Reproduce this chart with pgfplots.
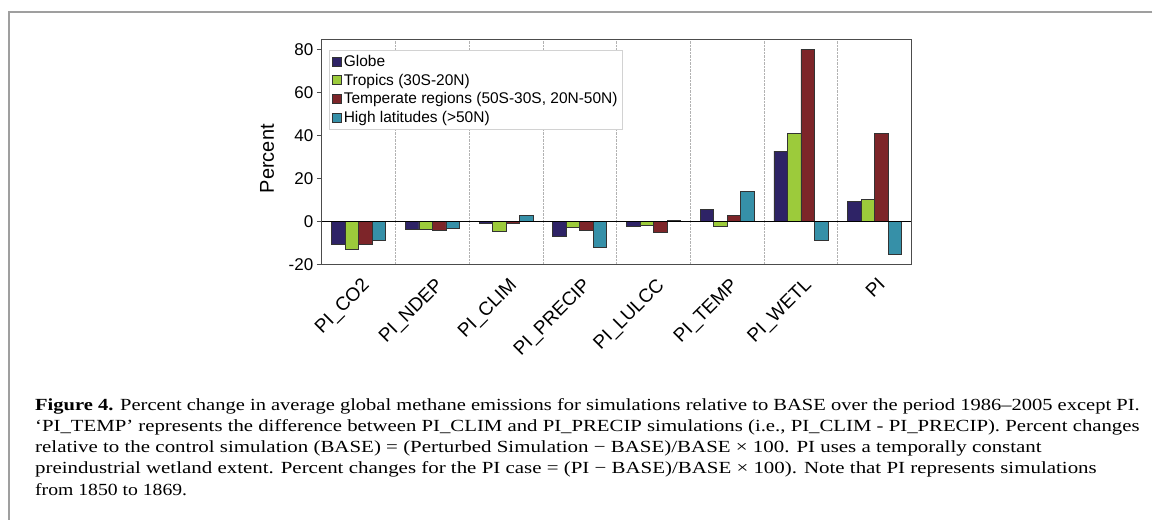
\documentclass[border=0pt]{standalone}
\usepackage{pgfplots}
\pgfplotsset{compat=1.18}
\usepackage{fontspec}
\setmainfont{Liberation Sans}
\newfontfamily\capfont{Liberation Serif}

\definecolor{cglobe}{HTML}{2E2366}
\definecolor{ctrop}{HTML}{9CCB3B}
\definecolor{ctemp}{HTML}{7D2529}
\definecolor{chigh}{HTML}{3690A8}

\newcommand{\capline}[2]{\resizebox{#1pt}{\height}{\capfont\fontsize{17}{20}\selectfont #2}}

\begin{document}
\begin{tikzpicture}[x=1pt,y=1pt]
\path (0,0) rectangle (1153,520);
% outer frame
\draw[gray!75, line width=1.3pt] (1153,508) -- (9,508) -- (9,0);

\begin{axis}[
    at={(322pt,255pt)}, anchor=south west,
    scale only axis, width=590pt, height=226pt,
    ybar=0pt, bar width=13.5pt,
    xmin=-0.5, xmax=7.5, ymin=-20, ymax=85,
    xtick={0,...,7},
    xticklabels={PI\_CO2,PI\_NDEP,PI\_CLIM,PI\_PRECIP,PI\_LULCC,PI\_TEMP,PI\_WETL,PI},
    minor xtick={0.5,1.5,...,6.5},
    xminorgrids=true,
    minor grid style={gray!60, densely dotted, line width=0.8pt},
    x tick style={draw=none},
    ytick={-20,0,...,80},
    ytick pos=left, tick align=outside,
    y tick style={black!70, line width=0.8pt},
    major tick length=5pt,
    axis line style={black!70, line width=0.9pt},
    /pgf/number format/assume math mode=true,
    ticklabel style={font=\fontsize{17}{20}\selectfont},
    x tick label style={font=\fontsize{19}{22}\selectfont, rotate=45, anchor=north east, yshift=-3pt},
    ylabel={Percent},
    ylabel style={font=\fontsize{20}{24}\selectfont, at={(axis description cs:-0.093,0.47)}, anchor=center},
    legend style={at={(axis description cs:0.012,0.951)}, anchor=north west,
        draw=gray!35, font=\fontsize{15.5}{18}\selectfont, inner sep=3pt,
        row sep=2pt, cells={anchor=west}},
    legend image code/.code={\fill[#1, draw=black!80, line width=0.7pt] (0pt,-4.5pt) rectangle (9pt,4.5pt);},
    every axis plot/.append style={draw=black!80, line width=0.7pt},
]
\addplot[fill=cglobe] coordinates {(0,-10.5) (1,-3.6) (2,-0.6) (3,-6.8) (4,-1.9) (5,5.7) (6,32.9) (7,9.5)};
\addplot[fill=ctrop] coordinates {(0,-12.9) (1,-3.3) (2,-4.5) (3,-2.6) (4,-1.5) (5,-2.0) (6,41.2) (7,10.5)};
\addplot[fill=ctemp] coordinates {(0,-10.5) (1,-3.9) (2,-0.8) (3,-4.0) (4,-5.1) (5,3.1) (6,80.2) (7,40.9)};
\addplot[fill=chigh] coordinates {(0,-8.5) (1,-3.1) (2,2.8) (3,-11.8) (4,0.6) (5,14.3) (6,-8.7) (7,-14.9)};
\legend{Globe, Tropics (30S-20N), {Temperate regions (50S-30S, 20N-50N)}, High latitudes (>50N)}
\draw[black, line width=0.9pt] (axis cs:-0.5,0) -- (axis cs:7.5,0);
\end{axis}

% caption
\node[anchor=base west, inner sep=0pt] at (35,109.5) {\capline{1105}{\textbf{Figure 4.} Percent change in average global methane emissions for simulations relative to BASE over the period 1986–2005 except PI.}};
\node[anchor=base west, inner sep=0pt] at (35,88.3) {\capline{1105}{‘PI\_TEMP’ represents the difference between PI\_CLIM and PI\_PRECIP simulations (i.e., PI\_CLIM - PI\_PRECIP). Percent changes}};
\node[anchor=base west, inner sep=0pt] at (35,67.1) {\capline{1007}{relative to the control simulation (BASE) = (Perturbed Simulation − BASE)/BASE × 100. PI uses a temporally constant}};
\node[anchor=base west, inner sep=0pt] at (35,45.9) {\capline{1062}{preindustrial wetland extent. Percent changes for the PI case = (PI − BASE)/BASE × 100). Note that PI represents simulations}};
\node[anchor=base west, inner sep=0pt] at (35,24.7) {\capline{152}{from 1850 to 1869.}};
\end{tikzpicture}
\end{document}
